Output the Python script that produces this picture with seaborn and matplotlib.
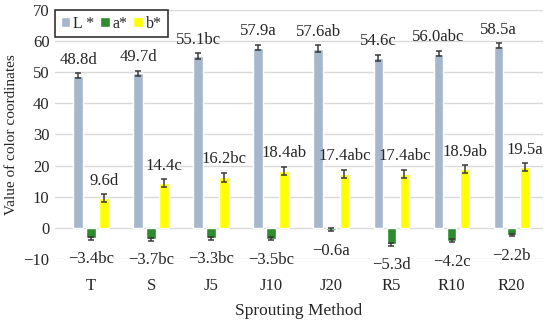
import pandas as pd
import seaborn as sns
import matplotlib.pyplot as plt

metodos = ['T', 'S', 'J5', 'J10', 'J20', 'R5', 'R10', 'R20']
L_vals = [48.8, 49.7, 55.1, 57.9, 57.6, 54.6, 56.0, 58.5]
a_vals = [-3.4, -3.7, -3.3, -3.5, -0.6, -5.3, -4.2, -2.2]
b_vals = [9.6, 14.4, 16.2, 18.4, 17.4, 17.4, 18.9, 19.5]
L_err = [0.8, 0.8, 1.0, 0.9, 1.0, 1.0, 0.8, 0.8]
a_err = [0.4, 0.4, 0.5, 0.5, 0.4, 0.5, 0.5, 0.3]
b_err = [1.2, 1.2, 1.5, 1.3, 1.3, 1.3, 1.2, 1.3]
L_let = ['d', 'd', 'bc', 'a', 'ab', 'c', 'abc', 'a']
a_let = ['bc', 'bc', 'bc', 'bc', 'a', 'd', 'c', 'b']
b_let = ['d', 'c', 'bc', 'ab', 'abc', 'abc', 'ab', 'a']
series = ['L *', 'a*', 'b*']
colores = ['#A6B6CB', '#2E8B2E', '#FFFF00']

df = pd.DataFrame({
    'Metodo': metodos * 3,
    'Serie': [s for s in series for _ in metodos],
    'Valor': L_vals + a_vals + b_vals,
})
errores = {'L *': L_err, 'a*': a_err, 'b*': b_err}
letras = {'L *': L_let, 'a*': a_let, 'b*': b_let}
valores = {'L *': L_vals, 'a*': a_vals, 'b*': b_vals}

sns.set_style('white')
plt.rcParams['font.family'] = ['Liberation Serif', 'DejaVu Serif']

fig = plt.figure(figsize=(5.5, 3.32), dpi=100)
# ejes: x 55..543 px, y 10..259 px
ax = fig.add_axes([0.100, 0.220, 0.887, 0.750])
sns.barplot(data=df, x='Metodo', y='Valor', hue='Serie', palette=colores,
            width=0.65, gap=0.25, saturation=1, ax=ax, errorbar=None, legend=True)

# barras de error y etiquetas
for i, s in enumerate(series):
    cont = ax.containers[i]
    xs = [p.get_x() + p.get_width() / 2 for p in cont.patches]
    ax.errorbar(xs, valores[s], yerr=errores[s], fmt='none', ecolor='#3A3A3A',
                elinewidth=1.1, capsize=2.5, capthick=1.1, zorder=5)
    for x, v, e, l in zip(xs, valores[s], errores[s], letras[s]):
        txt = f'{v:.1f}'.replace('-', '\u2212') + l
        if v >= 0:
            ax.annotate(txt, (x, v + e), xytext=(0, 4), textcoords='offset points',
                        ha='center', va='bottom', fontsize=12)
        else:
            ax.annotate(txt, (x, v), xytext=(0, -15), textcoords='offset points',
                        ha='center', va='center', fontsize=12)

ax.set_xlim(-0.6, 7.52)
ax.set_ylim(-10, 70)
ax.set_yticks(range(-10, 71, 10))
ax.grid(axis='y', color='#D9D9D9', linewidth=1)
ax.set_axisbelow(True)
for sp in ax.spines.values():
    sp.set_visible(False)
ax.tick_params(axis='x', length=0, pad=14, labelsize=12)
ax.tick_params(axis='y', length=0, pad=4, labelsize=12)
ax.set_xlabel('Sprouting Method', fontsize=12.5, labelpad=6)
ax.set_ylabel('Value of color coordinates', fontsize=11, labelpad=4)

leg = ax.legend(loc='upper left', ncol=3, frameon=True, fontsize=11.5,
                handlelength=0.6, handleheight=0.6, handletextpad=0.2,
                columnspacing=0.35, borderpad=0.35, borderaxespad=0.0,
                fancybox=False, bbox_to_anchor=(0.0, 1.0))
leg.get_frame().set_edgecolor('black')
leg.get_frame().set_linewidth(1.2)

fig.savefig('out.png', dpi=100)
